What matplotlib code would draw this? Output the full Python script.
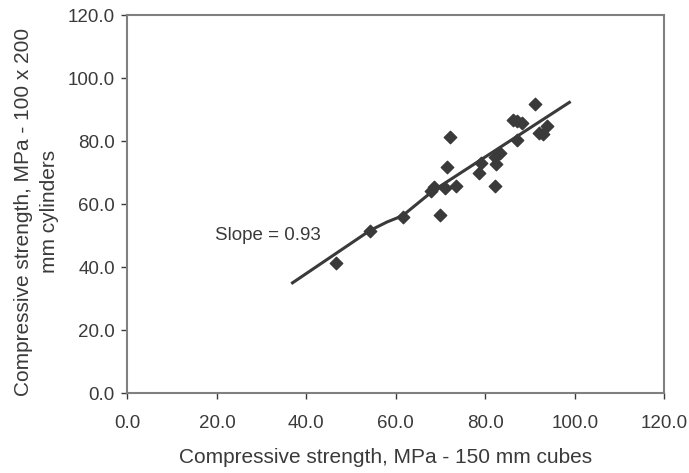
import numpy as np
import matplotlib.pyplot as plt

plt.rcParams['font.family'] = ['Liberation Sans', 'DejaVu Sans']

# cube strength (x) vs cylinder strength (y), MPa
cube = [46.7, 54.2, 61.5, 69.8, 67.9, 68.6, 71.1, 73.5, 71.4, 72.1, 78.7, 79.1,
        82.1, 82.3, 82.1, 83.2, 87.2, 86.2, 87.1, 88.1, 91.1, 92.0, 92.9, 93.7]
cyl = [41.4, 51.6, 56.0, 56.5, 64.2, 65.3, 65.0, 65.8, 71.8, 81.2, 69.8, 73.1,
       65.8, 72.6, 75.0, 76.1, 80.2, 86.6, 86.3, 85.6, 91.8, 82.6, 82.3, 84.7]

# trend line as traced
line_x = [36.9, 54.2, 58.0, 61.5, 68.3, 98.8]
line_y = [35.0, 51.6, 54.3, 56.3, 64.2, 92.3]

ink = '#3a3a3a'
fig = plt.figure(figsize=(6.89, 4.73), dpi=100)
ax = fig.add_axes([0.185, 0.169, 0.779, 0.799])

ax.plot(line_x, line_y, color=ink, lw=2.2, zorder=2, solid_joinstyle='round')
ax.scatter(cube, cyl, marker='D', s=40, color=ink, zorder=3)
ax.text(19.5, 49.9, 'Slope = 0.93', fontsize=13.5, color=ink, va='center')

ax.set_xlim(0, 120)
ax.set_ylim(0, 120)
ax.set_xticks(np.arange(0, 121, 20))
ax.set_yticks(np.arange(0, 121, 20))
ax.set_xticklabels(['%.1f' % v for v in np.arange(0, 121, 20)])
ax.set_yticklabels(['%.1f' % v for v in np.arange(0, 121, 20)])
ax.tick_params(colors=ink, labelsize=13.5, length=4, width=1)
ax.tick_params(axis='x', pad=12)
ax.tick_params(axis='y', pad=5)
for s in ax.spines.values():
    s.set_color('#808080')
    s.set_linewidth(1.5)

fig.text(0.559, 0.032, 'Compressive strength, MPa - 150 mm cubes', fontsize=15,
         color=ink, ha='center', va='center')
fig.text(0.053, 0.552, 'Compressive strength, MPa - 100 x 200\nmm cylinders', fontsize=15,
         color=ink, ha='center', va='center', rotation=90, multialignment='center',
         linespacing=1.45)

fig.savefig('out.png', dpi=100)
